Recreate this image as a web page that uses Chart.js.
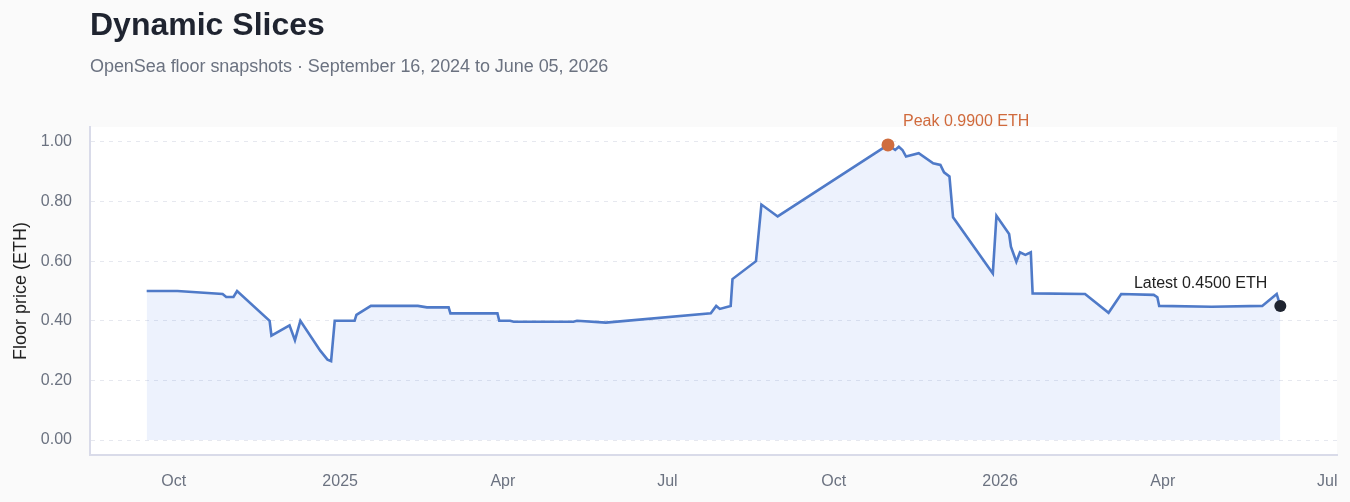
<!DOCTYPE html>
<html><head><meta charset="utf-8">
<script src="https://cdn.jsdelivr.net/npm/chart.js@4.4.1/dist/chart.umd.min.js"></script>
<style>
html,body{margin:0;padding:0;background:#fafafa;width:1350px;height:502px;overflow:hidden;font-family:"Liberation Sans",Arial,sans-serif;}
#wrap{position:relative;width:1350px;height:502px;}
canvas{position:absolute;left:0;top:0;}
h1{position:absolute;left:90px;top:8px;margin:0;font-size:32px;line-height:32px;font-weight:bold;color:#1f2430;white-space:nowrap;}
.sub{position:absolute;left:90px;top:57px;margin:0;font-size:18px;line-height:18px;color:#6b7280;white-space:nowrap;letter-spacing:-0.05px;}
</style></head><body>
<div id="wrap">
<canvas id="c" width="1350" height="502"></canvas>
<h1>Dynamic Slices</h1>
<div class="sub">OpenSea floor snapshots · September 16, 2024 to June 05, 2026</div>
</div>
<script>
const dates = ['2024-09-16','2024-10-03','2024-10-28','2024-10-30','2024-11-03','2024-11-05','2024-11-23','2024-11-24','2024-12-04','2024-12-07','2024-12-10','2024-12-21','2024-12-25','2024-12-27','2024-12-29','2025-01-09','2025-01-10','2025-01-18','2025-02-13','2025-02-18','2025-03-02','2025-03-03','2025-03-29','2025-03-30','2025-04-05','2025-04-07','2025-05-10','2025-05-12','2025-05-28','2025-07-25','2025-07-28','2025-07-30','2025-08-05','2025-08-06','2025-08-19','2025-08-22','2025-08-31','2025-10-31','2025-11-04','2025-11-06','2025-11-08','2025-11-10','2025-11-17','2025-11-25','2025-11-29','2025-12-01','2025-12-04','2025-12-06','2025-12-28','2025-12-30','2026-01-06','2026-01-07','2026-01-10','2026-01-12','2026-01-15','2026-01-18','2026-01-19','2026-02-17','2026-03-02','2026-03-09','2026-03-27','2026-03-29','2026-03-30','2026-04-28','2026-05-26','2026-06-03','2026-06-05'];
const floorPrices = [0.50,0.50,0.49,0.48,0.48,0.50,0.40,0.35,0.385,0.335,0.40,0.30,0.27,0.265,0.40,0.40,0.42,0.45,0.45,0.445,0.445,0.425,0.425,0.40,0.40,0.397,0.397,0.40,0.394,0.425,0.45,0.44,0.45,0.54,0.60,0.79,0.75,0.99,0.973,0.984,0.973,0.951,0.962,0.928,0.923,0.898,0.884,0.747,0.559,0.752,0.691,0.649,0.598,0.63,0.621,0.63,0.492,0.49,0.427,0.49,0.487,0.479,0.45,0.447,0.45,0.49,0.45];
const xTickDates = ['2024-10-01','2025-01-01','2025-04-01','2025-07-01','2025-10-01','2026-01-01','2026-04-01','2026-07-01'];
const xTickLabels = ['Oct','2025','Apr','Jul','Oct','2026','Apr','Jul'];
const yTicks = [0,0.2,0.4,0.6,0.8,1.0];

const ts = d => Date.parse(d + 'T00:00:00Z');
const points = dates.map((d,i)=>({x:ts(d), y:floorPrices[i]}));
const t0 = points[0].x, t1 = points[points.length-1].x, span = t1 - t0;
let peakIdx = 0;
floorPrices.forEach((v,i)=>{ if (v > floorPrices[peakIdx]) peakIdx = i; });
const lastIdx = floorPrices.length - 1;
const xTickVals = xTickDates.map(ts);
const FONT = '"Liberation Sans", Arial, sans-serif';

const bgPlugin = {
  id:'bg',
  beforeDraw(chart){
    const {ctx, chartArea:a} = chart;
    ctx.save(); ctx.fillStyle = '#ffffff';
    ctx.fillRect(a.left, a.top, a.right-a.left, a.bottom-a.top);
    ctx.restore();
  }
};
const labelPlugin = {
  id:'labels',
  afterDraw(chart){
    const {ctx, scales:{x,y}} = chart;
    ctx.save();
    ctx.font = '16px ' + FONT;
    ctx.textBaseline = 'middle';
    const p = points[peakIdx];
    ctx.fillStyle = '#d06a3c'; ctx.textAlign = 'left';
    ctx.fillText('Peak ' + p.y.toFixed(4) + ' ETH', x.getPixelForValue(p.x) + 15, y.getPixelForValue(p.y) - 23);
    const l = points[lastIdx];
    ctx.fillStyle = '#222222'; ctx.textAlign = 'right';
    ctx.fillText('Latest ' + l.y.toFixed(4) + ' ETH', x.getPixelForValue(l.x) - 13, y.getPixelForValue(l.y) - 22);
    ctx.restore();
  }
};

new Chart(document.getElementById('c'), {
  type:'line',
  data:{datasets:[
    {data:[points[peakIdx]], showLine:false, pointRadius:6.5, pointBackgroundColor:'#cf6d3f', pointBorderWidth:0, order:0},
    {data:[points[lastIdx]], showLine:false, pointRadius:6, pointBackgroundColor:'#1f2430', pointBorderWidth:0, order:0},
    {data:points, borderColor:'#4f7ac8', borderWidth:2.6, pointRadius:0, tension:0, fill:'origin', backgroundColor:'rgba(75,125,240,0.1)', order:1}
  ]},
  options:{
    responsive:false, animation:false, devicePixelRatio:1,
    layout:{padding:{left:0,right:13,top:127,bottom:0}},
    plugins:{legend:{display:false}, tooltip:{enabled:false}},
    scales:{
      x:{type:'linear', min:t0 - 0.05*span, max:t1 + 0.05*span,
        afterFit(s){ s.height = 47; },
        afterBuildTicks(s){ s.ticks = xTickVals.map(v=>({value:v})); },
        ticks:{autoSkip:false, maxRotation:0, padding:12, color:'#6b7280', font:{size:16, family:FONT, lineHeight:1.85},
          callback:(v)=>{ const i = xTickVals.indexOf(v); return i>=0 ? xTickLabels[i] : ''; }},
        grid:{display:false, drawTicks:false},
        border:{display:true, color:'#d9dbe9', width:2}
      },
      y:{min:-0.05, max:1.05,
        afterFit(s){ s.width = 90; },
        afterBuildTicks(s){ s.ticks = yTicks.map(v=>({value:v})); },
        ticks:{padding:18, color:'#6b7280', font:{size:16, family:FONT}, callback:v=>Number(v).toFixed(2)},
        grid:{color:'#e6e8ef', lineWidth:1, drawTicks:false},
        border:{display:true, color:'#d9dbe9', width:2, dash:[4,5]},
        title:{display:true, text:'Floor price (ETH)', color:'#222222', font:{size:18, family:FONT}, padding:{top:10,bottom:0}}
      }
    }
  },
  plugins:[bgPlugin, labelPlugin]
});
</script>
</body></html>
